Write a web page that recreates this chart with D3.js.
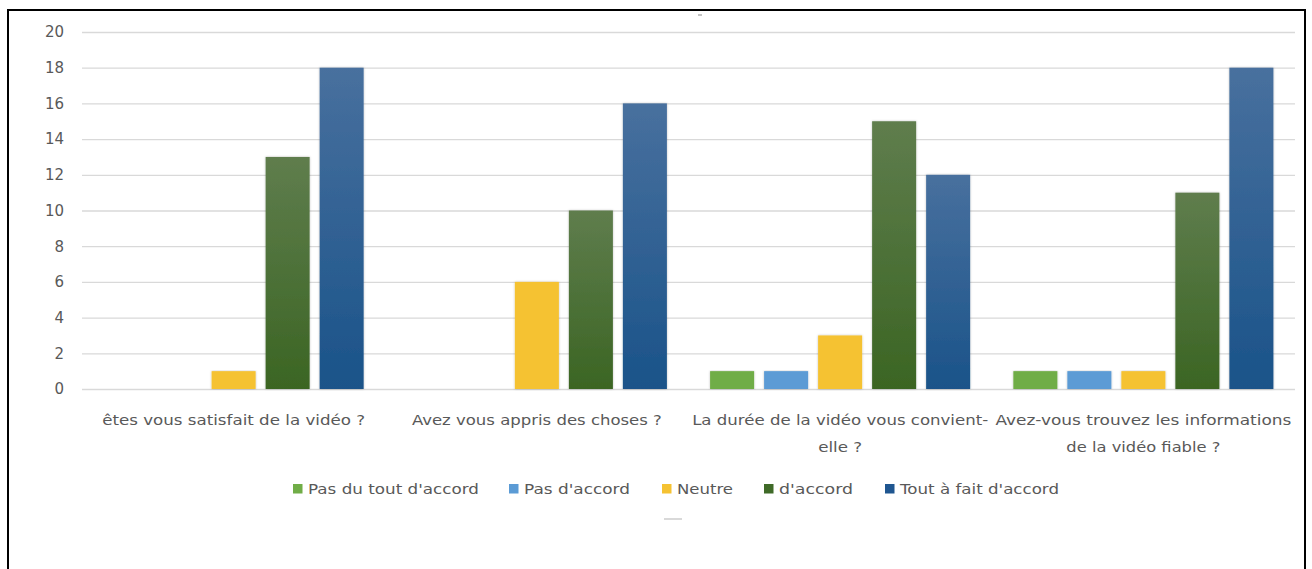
<!DOCTYPE html>
<html><head><meta charset="utf-8">
<script src="https://cdn.jsdelivr.net/npm/d3@7/dist/d3.min.js"></script>
<style>
html,body{margin:0;padding:0;background:#fff;}
svg{display:block;font-family:"DejaVu Sans","Open Sans",sans-serif;}
</style></head>
<body>
<svg id="chart" width="1312" height="569"></svg>
<script>
const categories = [
  ["êtes vous satisfait de la vidéo ?"],
  ["Avez vous appris des choses ?"],
  ["La durée de la vidéo vous convient-", "elle ?"],
  ["Avez-vous trouvez les informations", "de la vidéo fiable ?"]
];
const seriesNames = ["Pas du tout d'accord", "Pas d'accord", "Neutre", "d'accord", "Tout à fait d'accord"];
const pasDuTout = [0, 0, 1, 1];
const pasDaccord = [0, 0, 1, 1];
const neutre = [1, 6, 3, 1];
const daccord = [13, 10, 15, 11];
const toutAFait = [18, 16, 12, 18];
const yTicks = [0, 2, 4, 6, 8, 10, 12, 14, 16, 18, 20];

const seriesValues = [pasDuTout, pasDaccord, neutre, daccord, toutAFait];
const colors = ["#70ad47", "#5b9bd5", "#f5c232", "url(#gGreen)", "url(#gBlue)"];
const legendColors = ["#70ad47", "#5b9bd5", "#f5c232", "#3f6a28", "#1f5690"];

// label layout widths (px) measured from reference
const labelWidths = [[263], [250], [296, 44], [296, 154]];
const legendSq = [293, 509, 662, 764, 885];
const legendTextX = [308, 524, 677, 779, 900];
const legendTextW = [171, 106, 56, 74, 159];

const svg = d3.select("#chart");
const defs = svg.append("defs");
function grad(id, top, bottom){
  const g = defs.append("linearGradient").attr("id", id).attr("x1",0).attr("y1",0).attr("x2",0).attr("y2",1);
  g.append("stop").attr("offset","0%").attr("stop-color",top);
  g.append("stop").attr("offset","100%").attr("stop-color",bottom);
}
grad("gGreen", "#5f7d4d", "#3b6523");
grad("gBlue", "#48709e", "#1a5389");
const f = defs.append("filter").attr("id","shadow").attr("x","-20%").attr("y","-5%").attr("width","140%").attr("height","110%");
f.append("feDropShadow").attr("dx",0).attr("dy",0).attr("stdDeviation",1.2).attr("flood-color","#000").attr("flood-opacity",0.25);

// border
svg.append("rect").attr("x",8).attr("y",10).attr("width",1297).attr("height",600)
  .attr("fill","none").attr("stroke","#000").attr("stroke-width",2);

const x0 = d3.scaleBand().domain(d3.range(categories.length)).range([82, 1295]).paddingInner(0).paddingOuter(0);
const x1 = d3.scaleBand().domain(d3.range(seriesNames.length)).range([0, x0.bandwidth()]).paddingInner(0.185).paddingOuter(0.4);
const y = d3.scaleLinear().domain([0, 20]).range([389, 32]);

// grid
const yAxis = d3.axisLeft(y).tickValues(yTicks).tickSize(-(1295-82)).tickPadding(18);
const gy = svg.append("g").attr("transform","translate(82,0)").call(yAxis);
gy.select(".domain").remove();
gy.selectAll(".tick line").attr("stroke","#d9d9d9").attr("stroke-width",1.3);
gy.selectAll(".tick text").attr("fill","#595959").attr("font-size","15px").attr("font-family","DejaVu Sans");

// bars
const groups = svg.append("g").selectAll("g").data(categories).join("g")
  .attr("transform",(d,i)=>`translate(${x0(i)},0)`);
groups.selectAll("rect").data((d,i)=>seriesValues.map((s,j)=>({j, v:s[i]}))).join("rect")
  .filter(d=>d.v>0)
  .attr("x",d=>x1(d.j)).attr("width",x1.bandwidth())
  .attr("y",d=>y(d.v)).attr("height",d=>y(0)-y(d.v))
  .attr("fill",d=>colors[d.j]).attr("filter","url(#shadow)");

// x labels
const xl = svg.append("g").selectAll("g").data(categories).join("g")
  .attr("transform",(d,i)=>`translate(${x0(i)+x0.bandwidth()/2},425)`);
xl.each(function(d,i){
  d3.select(this).selectAll("text").data(d).join("text")
    .attr("text-anchor","middle").attr("fill","#595959").attr("font-size","14px")
    .attr("x",0).attr("y",(t,k)=>k*27)
    .attr("textLength",(t,k)=>labelWidths[i][k]).attr("lengthAdjust","spacingAndGlyphs")
    .text(t=>t);
});

// legend
const lg = svg.append("g").selectAll("g").data(seriesNames).join("g");
lg.append("rect").attr("x",(d,i)=>legendSq[i]).attr("y",484).attr("width",9.5).attr("height",9.5).attr("fill",(d,i)=>legendColors[i]);
lg.append("text").attr("x",(d,i)=>legendTextX[i]).attr("y",494).attr("fill","#595959").attr("font-size","14px")
  .attr("textLength",(d,i)=>legendTextW[i]).attr("lengthAdjust","spacingAndGlyphs").text(d=>d);

// tiny artifacts
svg.append("line").attr("x1",698).attr("x2",702).attr("y1",15).attr("y2",15).attr("stroke","#888").attr("stroke-width",1);
svg.append("line").attr("x1",664).attr("x2",682).attr("y1",519).attr("y2",519).attr("stroke","#ccc").attr("stroke-width",1.5);
</script>
</body></html>
